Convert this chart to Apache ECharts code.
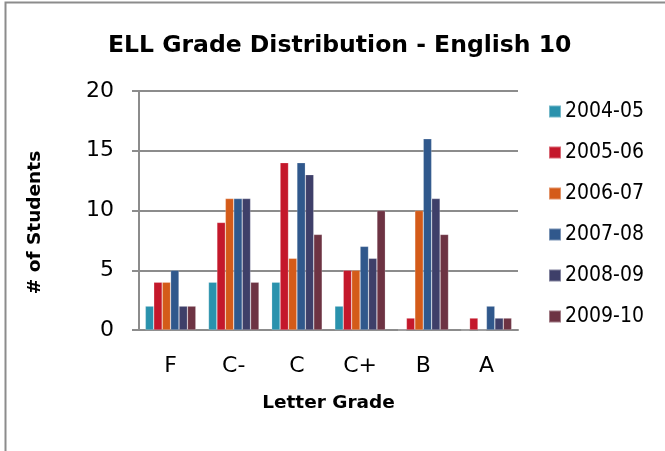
<!DOCTYPE html>
<html>
<head>
<meta charset="utf-8">
<script src="https://cdn.jsdelivr.net/npm/echarts@6/dist/echarts.min.js"></script>
<style>html,body{margin:0;padding:0;background:#fff;}#c{width:665px;height:451px;}</style>
</head>
<body>
<div id="c"></div>
<script>
const categories = ['F', 'C-', 'C', 'C+', 'B', 'A'];
const seriesNames = ['2004-05', '2005-06', '2006-07', '2007-08', '2008-09', '2009-10'];
const s2004 = [2, 4, 4, 2, 0, 0];
const s2005 = [4, 9, 14, 5, 1, 1];
const s2006 = [4, 11, 6, 5, 10, 0];
const s2007 = [5, 11, 14, 7, 16, 2];
const s2008 = [2, 11, 13, 6, 11, 1];
const s2009 = [2, 4, 8, 10, 8, 1];
const yTicks = [0, 5, 10, 15, 20];
const colors = ['#2a92ad', '#c4182b', '#d45b19', '#30588c', '#3e3f69', '#6d3343'];

const allData = [s2004, s2005, s2006, s2007, s2008, s2009];
const font = 'DejaVu Sans';
const fontC = 'DejaVu Sans Condensed';
const chart = echarts.init(document.getElementById('c'), null, {renderer: 'canvas'});
chart.setOption({
  animation: false,
  backgroundColor: '#fff',
  color: colors,
  textStyle: {fontFamily: font},
  graphic: [{
    type: 'rect', shape: {x: 5.5, y: 2.5, width: 800, height: 800},
    style: {fill: 'none', stroke: '#8c8c8c', lineWidth: 2}, silent: true
  }],
  title: {
    text: 'ELL Grade Distribution - English 10',
    left: 103, top: 29,
    textStyle: {fontFamily: font, fontWeight: 'bold', fontSize: 23.5, color: '#000'}
  },
  legend: {
    orient: 'vertical', left: 543, top: 96,
    itemWidth: 12, itemHeight: 12, itemGap: 20,
    icon: 'rect',
    data: seriesNames,
    textStyle: {fontFamily: fontC, fontSize: 21, color: '#000', lineHeight: 18, padding: [0, 0, 0, -1]}
  },
  grid: {left: 139, right: 147, top: 91, bottom: 121},
  xAxis: {
    type: 'category', data: categories,
    name: 'Letter Grade', nameLocation: 'middle', nameGap: 64,
    nameTextStyle: {fontFamily: font, fontWeight: 'bold', fontSize: 18.5, color: '#000'},
    axisLine: {lineStyle: {color: '#8c8c8c', width: 2}},
    axisTick: {show: false},
    axisLabel: {fontFamily: font, fontSize: 22, color: '#000', margin: 25}
  },
  yAxis: {
    type: 'value', min: 0, max: 20, interval: 5,
    name: '# of Students', nameLocation: 'middle', nameGap: 94, nameRotate: 90,
    nameTextStyle: {fontFamily: font, fontWeight: 'bold', fontSize: 18.5, color: '#000', padding: [0, 24, 0, 0]},
    axisLine: {show: true, lineStyle: {color: '#8c8c8c', width: 2}},
    axisTick: {show: true, length: 7, lineStyle: {color: '#8c8c8c', width: 2}},
    axisLabel: {fontFamily: font, fontSize: 22, color: '#000', margin: 25,
      formatter: v => yTicks.includes(v) ? String(v) : ''},
    splitLine: {lineStyle: {color: '#8c8c8c', width: 2}}
  },
  series: seriesNames.map((n, i) => ({
    name: n, type: 'bar', data: allData[i],
    barGap: '0%', barCategoryGap: '20%',
    itemStyle: {color: colors[i], borderColor: 'rgba(255,255,255,0.35)', borderWidth: 0.6}
  }))
});
</script>
</body>
</html>
